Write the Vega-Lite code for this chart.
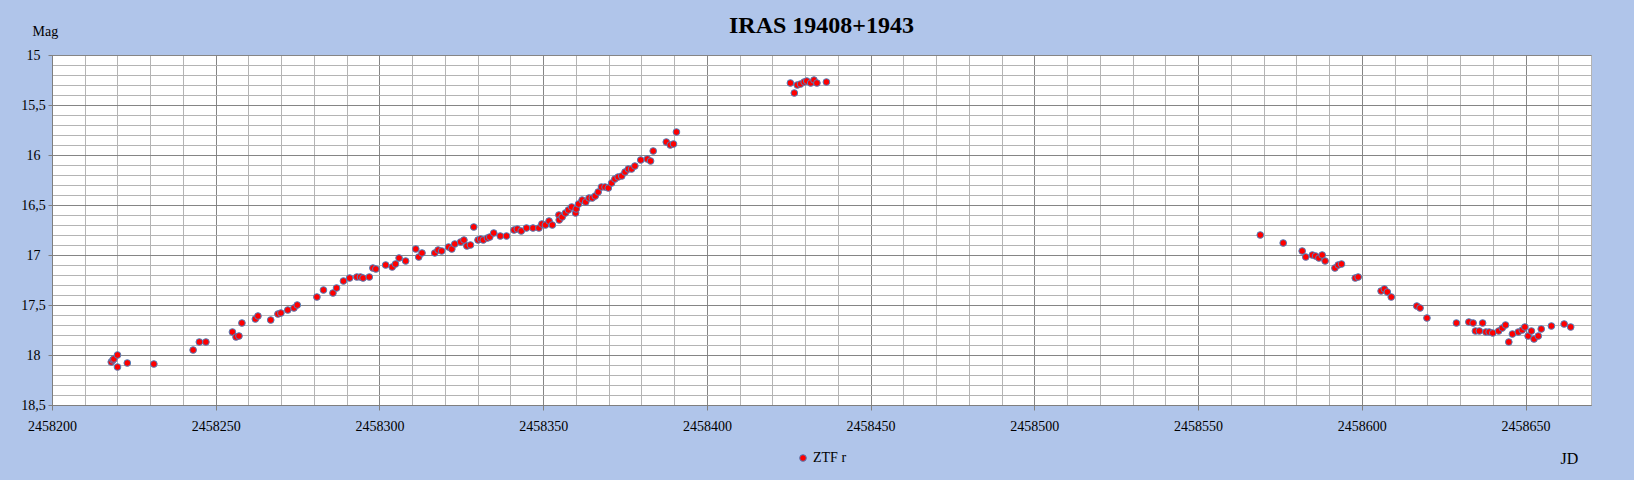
{
  "$schema": "https://vega.github.io/schema/vega-lite/v6.json",
  "width": 1539,
  "height": 350,
  "autosize": "none",
  "padding": {"left": 52, "top": 55, "right": 43, "bottom": 75},
  "background": "#b0c5ea",
  "title": {
    "text": "IRAS 19408+1943",
    "font": "Liberation Serif",
    "fontSize": 24,
    "fontWeight": "bold",
    "color": "black",
    "anchor": "middle",
    "baseline": "top",
    "offset": -14
  },
  "data": {
    "values": [
      {"jd": 2458218.1, "mag": 18.07, "band": "ZTF r"},
      {"jd": 2458218.6, "mag": 18.05, "band": "ZTF r"},
      {"jd": 2458218.9, "mag": 18.04, "band": "ZTF r"},
      {"jd": 2458220.0, "mag": 18.00, "band": "ZTF r"},
      {"jd": 2458220.0, "mag": 18.12, "band": "ZTF r"},
      {"jd": 2458223.0, "mag": 18.08, "band": "ZTF r"},
      {"jd": 2458231.1, "mag": 18.09, "band": "ZTF r"},
      {"jd": 2458243.1, "mag": 17.95, "band": "ZTF r"},
      {"jd": 2458245.0, "mag": 17.87, "band": "ZTF r"},
      {"jd": 2458247.0, "mag": 17.87, "band": "ZTF r"},
      {"jd": 2458255.1, "mag": 17.77, "band": "ZTF r"},
      {"jd": 2458256.2, "mag": 17.82, "band": "ZTF r"},
      {"jd": 2458257.1, "mag": 17.81, "band": "ZTF r"},
      {"jd": 2458258.0, "mag": 17.68, "band": "ZTF r"},
      {"jd": 2458262.1, "mag": 17.64, "band": "ZTF r"},
      {"jd": 2458262.9, "mag": 17.61, "band": "ZTF r"},
      {"jd": 2458266.8, "mag": 17.65, "band": "ZTF r"},
      {"jd": 2458269.0, "mag": 17.59, "band": "ZTF r"},
      {"jd": 2458269.9, "mag": 17.58, "band": "ZTF r"},
      {"jd": 2458272.0, "mag": 17.55, "band": "ZTF r"},
      {"jd": 2458273.9, "mag": 17.53, "band": "ZTF r"},
      {"jd": 2458274.9, "mag": 17.50, "band": "ZTF r"},
      {"jd": 2458280.9, "mag": 17.42, "band": "ZTF r"},
      {"jd": 2458282.9, "mag": 17.35, "band": "ZTF r"},
      {"jd": 2458285.8, "mag": 17.38, "band": "ZTF r"},
      {"jd": 2458286.9, "mag": 17.33, "band": "ZTF r"},
      {"jd": 2458289.0, "mag": 17.26, "band": "ZTF r"},
      {"jd": 2458290.9, "mag": 17.23, "band": "ZTF r"},
      {"jd": 2458293.1, "mag": 17.22, "band": "ZTF r"},
      {"jd": 2458294.2, "mag": 17.22, "band": "ZTF r"},
      {"jd": 2458295.0, "mag": 17.23, "band": "ZTF r"},
      {"jd": 2458296.9, "mag": 17.22, "band": "ZTF r"},
      {"jd": 2458298.0, "mag": 17.13, "band": "ZTF r"},
      {"jd": 2458298.9, "mag": 17.14, "band": "ZTF r"},
      {"jd": 2458301.9, "mag": 17.10, "band": "ZTF r"},
      {"jd": 2458303.9, "mag": 17.12, "band": "ZTF r"},
      {"jd": 2458304.9, "mag": 17.09, "band": "ZTF r"},
      {"jd": 2458306.0, "mag": 17.03, "band": "ZTF r"},
      {"jd": 2458308.0, "mag": 17.06, "band": "ZTF r"},
      {"jd": 2458311.1, "mag": 16.94, "band": "ZTF r"},
      {"jd": 2458312.0, "mag": 17.02, "band": "ZTF r"},
      {"jd": 2458313.0, "mag": 16.98, "band": "ZTF r"},
      {"jd": 2458316.9, "mag": 16.98, "band": "ZTF r"},
      {"jd": 2458317.9, "mag": 16.95, "band": "ZTF r"},
      {"jd": 2458319.0, "mag": 16.96, "band": "ZTF r"},
      {"jd": 2458321.1, "mag": 16.92, "band": "ZTF r"},
      {"jd": 2458322.1, "mag": 16.94, "band": "ZTF r"},
      {"jd": 2458323.0, "mag": 16.89, "band": "ZTF r"},
      {"jd": 2458324.8, "mag": 16.87, "band": "ZTF r"},
      {"jd": 2458325.8, "mag": 16.85, "band": "ZTF r"},
      {"jd": 2458326.7, "mag": 16.91, "band": "ZTF r"},
      {"jd": 2458327.8, "mag": 16.90, "band": "ZTF r"},
      {"jd": 2458328.8, "mag": 16.72, "band": "ZTF r"},
      {"jd": 2458330.1, "mag": 16.85, "band": "ZTF r"},
      {"jd": 2458330.9, "mag": 16.84, "band": "ZTF r"},
      {"jd": 2458331.7, "mag": 16.85, "band": "ZTF r"},
      {"jd": 2458333.0, "mag": 16.83, "band": "ZTF r"},
      {"jd": 2458333.7, "mag": 16.82, "band": "ZTF r"},
      {"jd": 2458334.9, "mag": 16.78, "band": "ZTF r"},
      {"jd": 2458336.9, "mag": 16.81, "band": "ZTF r"},
      {"jd": 2458338.8, "mag": 16.81, "band": "ZTF r"},
      {"jd": 2458341.1, "mag": 16.75, "band": "ZTF r"},
      {"jd": 2458342.1, "mag": 16.74, "band": "ZTF r"},
      {"jd": 2458343.3, "mag": 16.76, "band": "ZTF r"},
      {"jd": 2458344.9, "mag": 16.73, "band": "ZTF r"},
      {"jd": 2458346.9, "mag": 16.73, "band": "ZTF r"},
      {"jd": 2458348.7, "mag": 16.73, "band": "ZTF r"},
      {"jd": 2458349.6, "mag": 16.69, "band": "ZTF r"},
      {"jd": 2458350.7, "mag": 16.70, "band": "ZTF r"},
      {"jd": 2458351.8, "mag": 16.66, "band": "ZTF r"},
      {"jd": 2458352.8, "mag": 16.70, "band": "ZTF r"},
      {"jd": 2458354.8, "mag": 16.60, "band": "ZTF r"},
      {"jd": 2458354.9, "mag": 16.65, "band": "ZTF r"},
      {"jd": 2458355.8, "mag": 16.62, "band": "ZTF r"},
      {"jd": 2458356.8, "mag": 16.58, "band": "ZTF r"},
      {"jd": 2458357.7, "mag": 16.55, "band": "ZTF r"},
      {"jd": 2458358.7, "mag": 16.52, "band": "ZTF r"},
      {"jd": 2458359.9, "mag": 16.58, "band": "ZTF r"},
      {"jd": 2458360.1, "mag": 16.54, "band": "ZTF r"},
      {"jd": 2458360.8, "mag": 16.49, "band": "ZTF r"},
      {"jd": 2458361.9, "mag": 16.45, "band": "ZTF r"},
      {"jd": 2458363.0, "mag": 16.47, "band": "ZTF r"},
      {"jd": 2458364.0, "mag": 16.43, "band": "ZTF r"},
      {"jd": 2458365.0, "mag": 16.43, "band": "ZTF r"},
      {"jd": 2458365.9, "mag": 16.41, "band": "ZTF r"},
      {"jd": 2458366.8, "mag": 16.37, "band": "ZTF r"},
      {"jd": 2458367.8, "mag": 16.32, "band": "ZTF r"},
      {"jd": 2458368.9, "mag": 16.32, "band": "ZTF r"},
      {"jd": 2458369.9, "mag": 16.33, "band": "ZTF r"},
      {"jd": 2458370.9, "mag": 16.28, "band": "ZTF r"},
      {"jd": 2458371.9, "mag": 16.24, "band": "ZTF r"},
      {"jd": 2458372.9, "mag": 16.22, "band": "ZTF r"},
      {"jd": 2458374.0, "mag": 16.21, "band": "ZTF r"},
      {"jd": 2458375.0, "mag": 16.17, "band": "ZTF r"},
      {"jd": 2458376.0, "mag": 16.14, "band": "ZTF r"},
      {"jd": 2458377.0, "mag": 16.14, "band": "ZTF r"},
      {"jd": 2458378.0, "mag": 16.11, "band": "ZTF r"},
      {"jd": 2458379.8, "mag": 16.05, "band": "ZTF r"},
      {"jd": 2458381.8, "mag": 16.04, "band": "ZTF r"},
      {"jd": 2458382.8, "mag": 16.06, "band": "ZTF r"},
      {"jd": 2458383.6, "mag": 15.96, "band": "ZTF r"},
      {"jd": 2458387.6, "mag": 15.87, "band": "ZTF r"},
      {"jd": 2458388.8, "mag": 15.90, "band": "ZTF r"},
      {"jd": 2458389.8, "mag": 15.89, "band": "ZTF r"},
      {"jd": 2458390.7, "mag": 15.77, "band": "ZTF r"},
      {"jd": 2458425.5, "mag": 15.28, "band": "ZTF r"},
      {"jd": 2458426.7, "mag": 15.38, "band": "ZTF r"},
      {"jd": 2458427.6, "mag": 15.30, "band": "ZTF r"},
      {"jd": 2458428.6, "mag": 15.29, "band": "ZTF r"},
      {"jd": 2458429.7, "mag": 15.27, "band": "ZTF r"},
      {"jd": 2458430.5, "mag": 15.26, "band": "ZTF r"},
      {"jd": 2458431.7, "mag": 15.28, "band": "ZTF r"},
      {"jd": 2458432.7, "mag": 15.25, "band": "ZTF r"},
      {"jd": 2458433.6, "mag": 15.28, "band": "ZTF r"},
      {"jd": 2458436.5, "mag": 15.27, "band": "ZTF r"},
      {"jd": 2458569.0, "mag": 16.80, "band": "ZTF r"},
      {"jd": 2458576.0, "mag": 16.88, "band": "ZTF r"},
      {"jd": 2458581.8, "mag": 16.96, "band": "ZTF r"},
      {"jd": 2458582.9, "mag": 17.02, "band": "ZTF r"},
      {"jd": 2458584.9, "mag": 17.00, "band": "ZTF r"},
      {"jd": 2458585.9, "mag": 17.01, "band": "ZTF r"},
      {"jd": 2458586.9, "mag": 17.03, "band": "ZTF r"},
      {"jd": 2458587.9, "mag": 17.00, "band": "ZTF r"},
      {"jd": 2458588.8, "mag": 17.06, "band": "ZTF r"},
      {"jd": 2458591.8, "mag": 17.13, "band": "ZTF r"},
      {"jd": 2458592.8, "mag": 17.10, "band": "ZTF r"},
      {"jd": 2458593.8, "mag": 17.09, "band": "ZTF r"},
      {"jd": 2458598.0, "mag": 17.23, "band": "ZTF r"},
      {"jd": 2458598.9, "mag": 17.22, "band": "ZTF r"},
      {"jd": 2458605.9, "mag": 17.36, "band": "ZTF r"},
      {"jd": 2458606.9, "mag": 17.34, "band": "ZTF r"},
      {"jd": 2458607.8, "mag": 17.37, "band": "ZTF r"},
      {"jd": 2458609.0, "mag": 17.42, "band": "ZTF r"},
      {"jd": 2458616.8, "mag": 17.51, "band": "ZTF r"},
      {"jd": 2458617.8, "mag": 17.53, "band": "ZTF r"},
      {"jd": 2458619.9, "mag": 17.63, "band": "ZTF r"},
      {"jd": 2458628.9, "mag": 17.68, "band": "ZTF r"},
      {"jd": 2458632.7, "mag": 17.67, "band": "ZTF r"},
      {"jd": 2458634.0, "mag": 17.68, "band": "ZTF r"},
      {"jd": 2458634.7, "mag": 17.76, "band": "ZTF r"},
      {"jd": 2458635.9, "mag": 17.76, "band": "ZTF r"},
      {"jd": 2458636.9, "mag": 17.68, "band": "ZTF r"},
      {"jd": 2458637.9, "mag": 17.77, "band": "ZTF r"},
      {"jd": 2458638.9, "mag": 17.77, "band": "ZTF r"},
      {"jd": 2458640.0, "mag": 17.78, "band": "ZTF r"},
      {"jd": 2458641.8, "mag": 17.76, "band": "ZTF r"},
      {"jd": 2458642.9, "mag": 17.73, "band": "ZTF r"},
      {"jd": 2458643.9, "mag": 17.70, "band": "ZTF r"},
      {"jd": 2458644.9, "mag": 17.87, "band": "ZTF r"},
      {"jd": 2458646.0, "mag": 17.79, "band": "ZTF r"},
      {"jd": 2458647.8, "mag": 17.77, "band": "ZTF r"},
      {"jd": 2458649.0, "mag": 17.75, "band": "ZTF r"},
      {"jd": 2458649.8, "mag": 17.72, "band": "ZTF r"},
      {"jd": 2458650.8, "mag": 17.81, "band": "ZTF r"},
      {"jd": 2458651.8, "mag": 17.76, "band": "ZTF r"},
      {"jd": 2458652.6, "mag": 17.84, "band": "ZTF r"},
      {"jd": 2458653.9, "mag": 17.81, "band": "ZTF r"},
      {"jd": 2458654.8, "mag": 17.74, "band": "ZTF r"},
      {"jd": 2458657.9, "mag": 17.71, "band": "ZTF r"},
      {"jd": 2458661.8, "mag": 17.69, "band": "ZTF r"},
      {"jd": 2458663.8, "mag": 17.72, "band": "ZTF r"}
    ]
  },
  "mark": {
    "type": "point",
    "filled": true,
    "fill": "#ff0000",
    "stroke": "#4f81bd",
    "strokeWidth": 1,
    "size": 45,
    "opacity": 1
  },
  "encoding": {
    "x": {
      "field": "jd",
      "type": "quantitative",
      "scale": {"domain": [2458200, 2458670], "nice": false, "zero": false},
      "axis": {
        "title": "JD",
        "titleFont": "Liberation Serif",
        "titleFontSize": 16,
        "titleFontWeight": "normal",
        "titleColor": "black",
        "titleAlign": "left",
        "titleBaseline": "alphabetic",
        "titleAnchor": null,
        "titleX": 1508,
        "titleY": 58,
        "values": [2458200, 2458210, 2458220, 2458230, 2458240, 2458250, 2458260, 2458270, 2458280, 2458290, 2458300, 2458310, 2458320, 2458330, 2458340, 2458350, 2458360, 2458370, 2458380, 2458390, 2458400, 2458410, 2458420, 2458430, 2458440, 2458450, 2458460, 2458470, 2458480, 2458490, 2458500, 2458510, 2458520, 2458530, 2458540, 2458550, 2458560, 2458570, 2458580, 2458590, 2458600, 2458610, 2458620, 2458630, 2458640, 2458650, 2458660, 2458670],
        "format": "d",
        "labelExpr": "datum.value % 50 === 0 ? datum.label : ''",
        "labelFont": "Liberation Serif",
        "labelFontSize": 14,
        "labelColor": "black",
        "labelPadding": 9,
        "labelFlush": false,
        "labelOverlap": false,
        "tickSize": 5,
        "tickColor": "#7f7f7f",
        "tickOpacity": {"condition": {"test": "datum.value % 50 === 0", "value": 1}, "value": 0},
        "domainColor": "#7f7f7f",
        "grid": true,
        "gridColor": {"condition": {"test": "datum.value % 50 === 0", "value": "#858585"}, "value": "#b4b4b4"},
        "gridWidth": 1
      }
    },
    "y": {
      "field": "mag",
      "type": "quantitative",
      "scale": {"domain": [15, 18.5], "reverse": true, "nice": false, "zero": false},
      "axis": {
        "title": "Mag",
        "titleFont": "Liberation Serif",
        "titleFontSize": 14,
        "titleFontWeight": "normal",
        "titleColor": "black",
        "titleAngle": 0,
        "titleAlign": "left",
        "titleBaseline": "alphabetic",
        "titleAnchor": null,
        "titleX": -20,
        "titleY": -20,
        "values": [15, 15.1, 15.2, 15.3, 15.4, 15.5, 15.6, 15.7, 15.8, 15.9, 16, 16.1, 16.2, 16.3, 16.4, 16.5, 16.6, 16.7, 16.8, 16.9, 17, 17.1, 17.2, 17.3, 17.4, 17.5, 17.6, 17.7, 17.8, 17.9, 18, 18.1, 18.2, 18.3, 18.4, 18.5],
        "labelExpr": "abs(datum.value * 2 - round(datum.value * 2)) < 0.01 ? replace(format(datum.value, '~g'), '.', ',') : ''",
        "labelFont": "Liberation Serif",
        "labelFontSize": 14,
        "labelColor": "black",
        "labelAlign": "center",
        "labelBaseline": "middle",
        "labelPadding": 15,
        "labelFlush": false,
        "labelOverlap": false,
        "tickSize": 4,
        "tickColor": "#7f7f7f",
        "tickOpacity": {"condition": {"test": "abs(datum.value * 2 - round(datum.value * 2)) < 0.01", "value": 1}, "value": 0},
        "domainColor": "#7f7f7f",
        "grid": true,
        "gridColor": {"condition": {"test": "abs(datum.value * 2 - round(datum.value * 2)) < 0.01", "value": "#858585"}, "value": "#b4b4b4"},
        "gridWidth": 1
      }
    },
    "color": {
      "field": "band",
      "type": "nominal",
      "scale": {"range": ["#ff0000"]},
      "legend": {
        "title": null,
        "orient": "none",
        "legendX": 744,
        "legendY": 396,
        "padding": 0,
        "symbolType": "circle",
        "symbolSize": 45,
        "symbolFillColor": "#ff0000",
        "symbolStrokeColor": "#4f81bd",
        "symbolStrokeWidth": 1,
        "labelFont": "Liberation Serif",
        "labelFontSize": 14,
        "labelColor": "black",
        "labelOffset": 3
      }
    }
  },
  "config": {
    "view": {"stroke": "#a6a6a6", "fill": "white"}
  }
}
